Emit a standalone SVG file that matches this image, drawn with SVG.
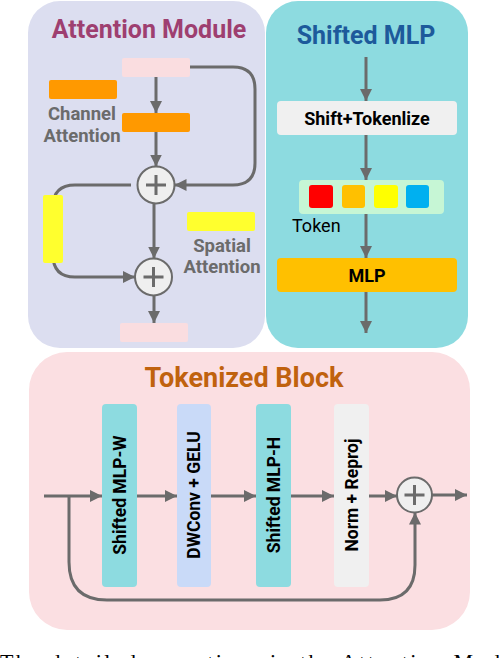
<svg xmlns="http://www.w3.org/2000/svg" width="500" height="658" viewBox="0 0 500 658">
<style>
.t{font-family:Roboto,"Liberation Sans",sans-serif;font-weight:bold}
.ttl{font-size:25px;text-anchor:middle}
.gray{fill:#6b6b6b;font-size:18.5px;text-anchor:middle}
.conn{fill:none;stroke:#6b6b6b;stroke-width:3}
.circ{fill:#efefef;stroke:#6b6b6b;stroke-width:2}
.plus{stroke:#6b6b6b;stroke-width:3;fill:none}
.vt{font-size:17.5px;fill:#000;text-anchor:middle;dominant-baseline:central}
</style>
<defs>
<marker id="ah" viewBox="0 0 12 12" refX="12" refY="6" markerWidth="12" markerHeight="12" markerUnits="userSpaceOnUse" orient="auto">
<path d="M0,0 L12,6 L0,12 z" fill="#6b6b6b"/>
</marker>
</defs>

<g id="panel-attention">
<rect x="28" y="1" width="237" height="347" rx="32" fill="#dcdef0"/>
<text class="t ttl" x="149" y="38" fill="#9e3f70">Attention Module</text>
</g>
<g id="panel-shifted">
<rect x="266" y="1" width="202" height="347" rx="32" fill="#8ddbe0"/>
<text class="t ttl" x="366" y="44" fill="#1d5a9b">Shifted MLP</text>
</g>
<g id="panel-tokenized">
<rect x="29" y="352" width="441" height="278" rx="38" fill="#fbdfe2"/>
<text class="t ttl" x="244" y="387" fill="#c0620e" style="font-size:27px">Tokenized Block</text>
</g>

<g id="connectors">
<path class="conn" d="M156,77 V113" marker-end="url(#ah)"/>
<path class="conn" d="M156,132 V166.5" marker-end="url(#ah)"/>
<path class="conn" d="M190,67 H233 Q255,67 255,89 V163 Q255,185 233,185 H174.5" marker-end="url(#ah)"/>
<path class="conn" d="M131,185 H75 Q53,185 53,207 V255 Q53,277 75,277 H135" marker-end="url(#ah)"/>
<path class="conn" d="M154,203.5 V258.5" marker-end="url(#ah)"/>
<path class="conn" d="M154,295.5 V323" marker-end="url(#ah)"/>

<path class="conn" d="M366,57 V101" marker-end="url(#ah)"/>
<path class="conn" d="M366,135 V180" marker-end="url(#ah)"/>
<path class="conn" d="M366,214 V258" marker-end="url(#ah)"/>
<path class="conn" d="M366,292 V333" marker-end="url(#ah)"/>

<path class="conn" d="M44,496 H102" marker-end="url(#ah)"/>
<path class="conn" d="M137,496 H177" marker-end="url(#ah)"/>
<path class="conn" d="M211,496 H256" marker-end="url(#ah)"/>
<path class="conn" d="M291,496 H334" marker-end="url(#ah)"/>
<path class="conn" d="M369,496 H397" marker-end="url(#ah)"/>
<path class="conn" d="M432,495 H467" marker-end="url(#ah)"/>
<path class="conn" d="M69,496 V562 Q69,600 107,600 H380 Q415,600 415,565 V512.5" marker-end="url(#ah)"/>
</g>

<g id="att-input"><rect x="122" y="58" width="68" height="19" rx="2" fill="#fadde0"/></g>
<g id="channel-legend">
<rect x="49" y="80" width="68" height="19" rx="2" fill="#ff9900"/>
<text class="t gray" x="82" y="120">Channel</text>
<text class="t gray" x="82" y="142">Attention</text>
</g>
<g id="channel-attn"><rect x="122" y="113" width="68" height="19" rx="2" fill="#ff9900"/></g>
<g id="add1">
<circle class="circ" cx="156" cy="185" r="18.5"/>
<path class="plus" d="M146,185 H166 M156,175 V195"/>
</g>
<g id="spatial-attn"><rect x="43" y="195" width="20" height="68" rx="2" fill="#ffff2e"/></g>
<g id="spatial-legend">
<rect x="187" y="212" width="68" height="19" rx="2" fill="#ffff2e"/>
<text class="t gray" x="222" y="252">Spatial</text>
<text class="t gray" x="222" y="273">Attention</text>
</g>
<g id="add2">
<circle class="circ" cx="153.5" cy="277" r="18.5"/>
<path class="plus" d="M143.5,277 H163.5 M153.5,267 V287"/>
</g>
<g id="att-output"><rect x="120" y="323" width="68" height="19" rx="2" fill="#fadde0"/></g>

<g id="shift-tokenize">
<rect x="277" y="101" width="180" height="34" rx="4" fill="#f0f0f0"/>
<text class="t" x="367" y="124.5" text-anchor="middle" font-size="18" fill="#000">Shift+Tokenlize</text>
</g>
<g id="tokens">
<rect x="299" y="180" width="145" height="34" rx="4" fill="#c6f6d5"/>
<rect x="309" y="185" width="24" height="23" rx="3" fill="#ff0000"/>
<rect x="342" y="185" width="23" height="23" rx="3" fill="#ffc000"/>
<rect x="374" y="185" width="24" height="23" rx="3" fill="#ffff00"/>
<rect x="406" y="185" width="23" height="23" rx="3" fill="#00b0f0"/>
<text x="292" y="232" font-family="Roboto,'Liberation Sans',sans-serif" font-size="18" fill="#000">Token</text>
</g>
<g id="mlp">
<rect x="277" y="258" width="180" height="34" rx="4" fill="#ffc000"/>
<text class="t" x="367" y="281.5" text-anchor="middle" font-size="18" fill="#000">MLP</text>
</g>

<g id="shifted-mlp-w">
<rect x="102" y="404" width="35" height="183" rx="4" fill="#8ddbe0"/>
<text class="t vt" x="119.5" y="495" transform="rotate(-90 119.5 495)">Shifted MLP-W</text>
</g>
<g id="dwconv-gelu">
<rect x="177" y="404" width="34" height="183" rx="4" fill="#c9daf8"/>
<text class="t vt" x="194" y="495" transform="rotate(-90 194 495)">DWConv + GELU</text>
</g>
<g id="shifted-mlp-h">
<rect x="256" y="404" width="35" height="183" rx="4" fill="#8ddbe0"/>
<text class="t vt" x="273.5" y="495" transform="rotate(-90 273.5 495)">Shifted MLP-H</text>
</g>
<g id="norm-reproj">
<rect x="334" y="404" width="35" height="183" rx="4" fill="#f0f0f0"/>
<text class="t vt" x="351.5" y="495" transform="rotate(-90 351.5 495)">Norm + Reproj</text>
</g>
<g id="add3">
<circle class="circ" cx="414.5" cy="495" r="17.5"/>
<path class="plus" d="M404.5,495 H424.5 M414.5,485 V505"/>
</g>

<g id="caption">
<text x="0" y="669" font-family="'Liberation Serif',serif" font-size="22" fill="#000" textLength="500" lengthAdjust="spacing">The detailed operations in the Attention Mod</text>
</g>
</svg>
